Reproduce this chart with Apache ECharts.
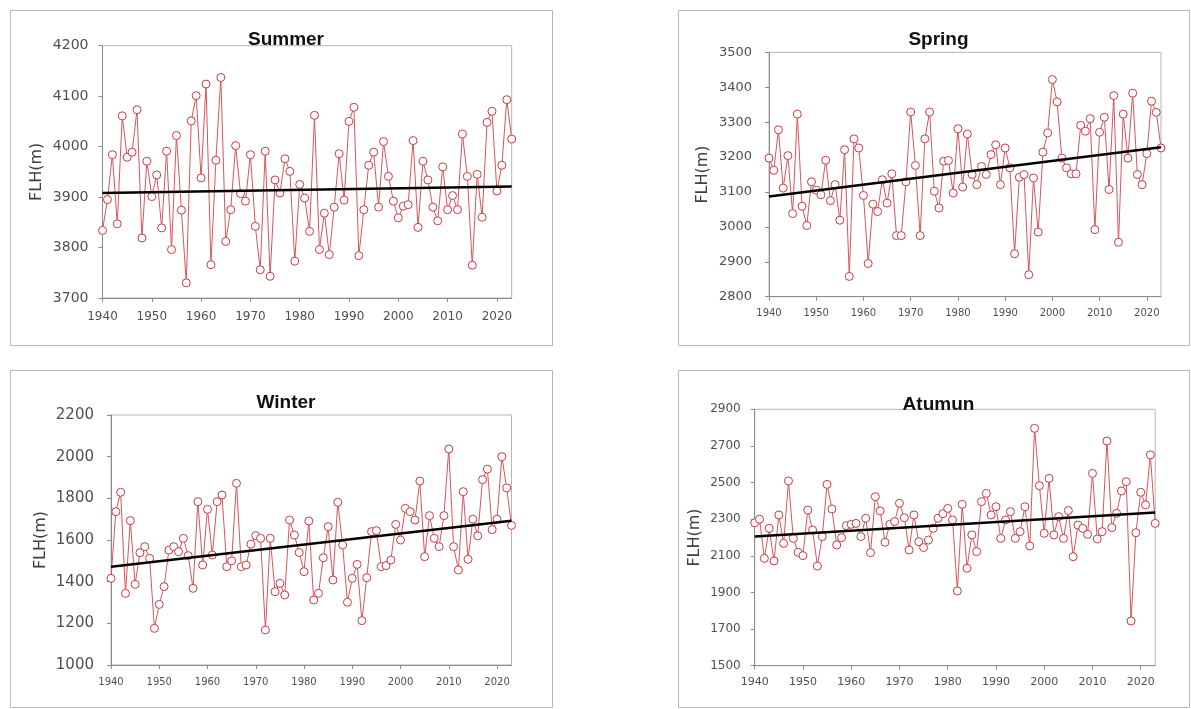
<!DOCTYPE html>
<html>
<head>
<meta charset="utf-8">
<script src="https://cdn.jsdelivr.net/npm/echarts@6/dist/echarts.min.js"></script>
<style>
  html, body { margin: 0; padding: 0; background: #ffffff; }
  #chart { width: 1191px; height: 709px; }
</style>
</head>
<body>
<div id="chart"></div>
<script>
// Years of record, 1940–2023
const years = [];
for (let y = 1940; y <= 2023; y++) years.push(y);

// Seasonal freezing level height (m)
const summerFLH = [
  3834, 3895, 3984, 3847, 4061, 3979, 3989, 4073, 3819, 3971,
  3901, 3944, 3839, 3991, 3796, 4022, 3874, 3730, 4051, 4101,
  3938, 4124, 3766, 3973, 4137, 3812, 3875, 4002, 3907, 3892,
  3984, 3842, 3756, 3991, 3743, 3934, 3908, 3976, 3951, 3773,
  3925, 3898, 3832, 4062, 3796, 3868, 3786, 3880, 3986, 3894,
  4050, 4078, 3784, 3875, 3963, 3989, 3880, 4010, 3941, 3892,
  3859, 3882, 3885, 4012, 3840, 3971, 3934, 3880, 3853, 3960,
  3875, 3903, 3875, 4025, 3941, 3765, 3945, 3860, 4048, 4070,
  3912, 3963, 4093, 4015
];
const springFLH = [
  3197, 3162, 3278, 3111, 3204, 3038, 3323, 3059, 3004, 3129,
  3105, 3092, 3191, 3075, 3121, 3019, 3221, 2858, 3252, 3226,
  3090, 2895, 3065, 3044, 3135, 3068, 3152, 2975, 2975, 3129,
  3329, 3176, 2975, 3252, 3329, 3102, 3054, 3188, 3190, 3097,
  3281, 3114, 3266, 3150, 3121, 3173, 3150, 3207, 3235, 3121,
  3226, 3169, 2923, 3142, 3150, 2863, 3140, 2985, 3214, 3269,
  3422, 3358, 3197, 3169, 3152, 3152, 3291, 3274, 3310, 2992,
  3271, 3314, 3107, 3376, 2956, 3323, 3197, 3383, 3150, 3121,
  3210, 3360, 3328, 3226
];
const winterFLH = [
  1416, 1736, 1829, 1344, 1693, 1387, 1539, 1568, 1512, 1176,
  1291, 1376, 1552, 1568, 1544, 1608, 1525, 1368, 1784, 1480,
  1747, 1528, 1784, 1816, 1472, 1500, 1872, 1472, 1480, 1580,
  1621, 1608, 1168, 1608, 1352, 1392, 1336, 1696, 1624, 1540,
  1448, 1691, 1312, 1344, 1515, 1664, 1408, 1781, 1576, 1301,
  1416, 1483, 1213, 1419, 1640, 1645, 1472, 1477, 1504, 1675,
  1600, 1752, 1736, 1696, 1883, 1520, 1717, 1608, 1568, 1717,
  2037, 1568, 1456, 1832, 1507, 1700, 1620, 1890, 1940, 1650,
  1700, 2000, 1850, 1670
];
const autumnFLH = [
  2280, 2300, 2086, 2250, 2072, 2323, 2168, 2509, 2195, 2119,
  2101, 2350, 2241, 2044, 2205, 2490, 2356, 2159, 2199, 2265,
  2272, 2277, 2205, 2305, 2117, 2423, 2345, 2174, 2272, 2287,
  2387, 2308, 2132, 2323, 2177, 2145, 2186, 2250, 2305, 2330,
  2359, 2296, 1908, 2381, 2032, 2214, 2123, 2396, 2441, 2323,
  2368, 2195, 2296, 2341, 2195, 2232, 2368, 2154, 2796, 2483,
  2223, 2523, 2214, 2314, 2195, 2347, 2095, 2268, 2250, 2217,
  2550, 2192, 2232, 2727, 2254, 2332, 2454, 2505, 1744, 2226,
  2447, 2378, 2651, 2277
];

// Linear trend values at 1940 and 2023
const summerTrend = [3908, 3921];
const springTrend = [3087, 3228];
const winterTrend = [1472, 1692];
const autumnTrend = [2205, 2336];

// Panel titles and y-axis ranges / tick steps
const titles = ['Summer', 'Spring', 'Winter', 'Atumun'];
const yMin = [3700, 2800, 1000, 1500];
const yMax = [4200, 3500, 2200, 2900];
const yStep = [100, 100, 200, 200];

const seriesValues = [summerFLH, springFLH, winterFLH, autumnFLH];
const trendValues = [summerTrend, springTrend, winterTrend, autumnTrend];

// Layout of each panel (pixels)
const panels = [
  { box: [10, 10, 542, 335], grid: [102.5, 45.7, 409.2, 252.3], titleY: 25, yFont: 14, xFont: 12, yMargin: 14, xMargin: 13, nameGap: 58 },
  { box: [678, 10, 511, 335], grid: [769, 52.3, 392, 244.4], titleY: 25, yFont: 13, xFont: 10, yMargin: 17, xMargin: 12, nameGap: 58 },
  { box: [10, 370, 542, 337], grid: [111, 415, 400.5, 250], titleY: 388, yFont: 15, xFont: 10, yMargin: 17, xMargin: 12, nameGap: 62 },
  { box: [678, 370, 511, 337], grid: [754.7, 409.3, 400.5, 256.4], titleY: 390, yFont: 12, xFont: 11, yMargin: 14, xMargin: 11, nameGap: 52 }
];

const labelColor = '#505050';
const fontFam = 'DejaVu Sans';

const graphic = [];
const title = [];
const grid = [];
const xAxis = [];
const yAxis = [];
const series = [];

panels.forEach((p, i) => {
  graphic.push({
    type: 'rect', z: -10,
    shape: { x: p.box[0] + 0.5, y: p.box[1] + 0.5, width: p.box[2], height: p.box[3] },
    style: { fill: '#ffffff', stroke: '#b8b8b8', lineWidth: 1 }
  });
  title.push({
    text: titles[i],
    left: p.box[0] + p.box[2] / 2,
    textAlign: 'center',
    top: p.titleY,
    textStyle: { fontFamily: 'Liberation Sans', fontWeight: 'bold', fontSize: 19, color: '#111' }
  });
  grid.push({
    left: p.grid[0], top: p.grid[1], width: p.grid[2], height: p.grid[3],
    show: true, borderColor: '#b5b5b5', borderWidth: 1, backgroundColor: '#ffffff'
  });
  xAxis.push({
    type: 'value', gridIndex: i, min: 1940, max: 2023, interval: 10,
    axisLine: { lineStyle: { color: '#8c8c8c', width: 1 } },
    axisTick: { show: true, length: 4, lineStyle: { color: '#8c8c8c' } },
    splitLine: { show: false },
    axisLabel: {
      color: labelColor, fontFamily: fontFam, fontSize: p.xFont, margin: p.xMargin,
      showMaxLabel: false,
      formatter: v => (v % 10 === 0 ? String(v) : '')
    }
  });
  yAxis.push({
    type: 'value', gridIndex: i, min: yMin[i], max: yMax[i], interval: yStep[i],
    name: 'FLH(m)', nameLocation: 'middle', nameGap: p.nameGap,
    nameTextStyle: { fontFamily: fontFam, fontSize: 16, color: '#404040' },
    axisLine: { show: true, lineStyle: { color: '#8c8c8c', width: 1 } },
    axisTick: { show: true, length: 4, lineStyle: { color: '#8c8c8c' } },
    splitLine: { show: false },
    axisLabel: {
      color: labelColor, fontFamily: fontFam, fontSize: p.yFont, margin: p.yMargin,
      formatter: v => String(v)
    }
  });
  series.push({
    type: 'line', xAxisIndex: i, yAxisIndex: i,
    data: years.map((y, k) => [y, seriesValues[i][k]]),
    symbol: 'circle', symbolSize: 8,
    lineStyle: { color: '#d9545c', width: 1 },
    itemStyle: { color: '#ffffff', borderColor: '#c93a44', borderWidth: 1 },
    emphasis: { disabled: true },
    z: 2
  });
  series.push({
    type: 'line', xAxisIndex: i, yAxisIndex: i,
    data: [[years[0], trendValues[i][0]], [years[years.length - 1], trendValues[i][1]]],
    symbol: 'none',
    lineStyle: { color: '#000000', width: 2.5 },
    emphasis: { disabled: true },
    z: 3
  });
});

const chart = echarts.init(document.getElementById('chart'), null, { renderer: 'canvas' });
chart.setOption({
  animation: false,
  backgroundColor: '#ffffff',
  graphic, title, grid, xAxis, yAxis, series
});
</script>
</body>
</html>
